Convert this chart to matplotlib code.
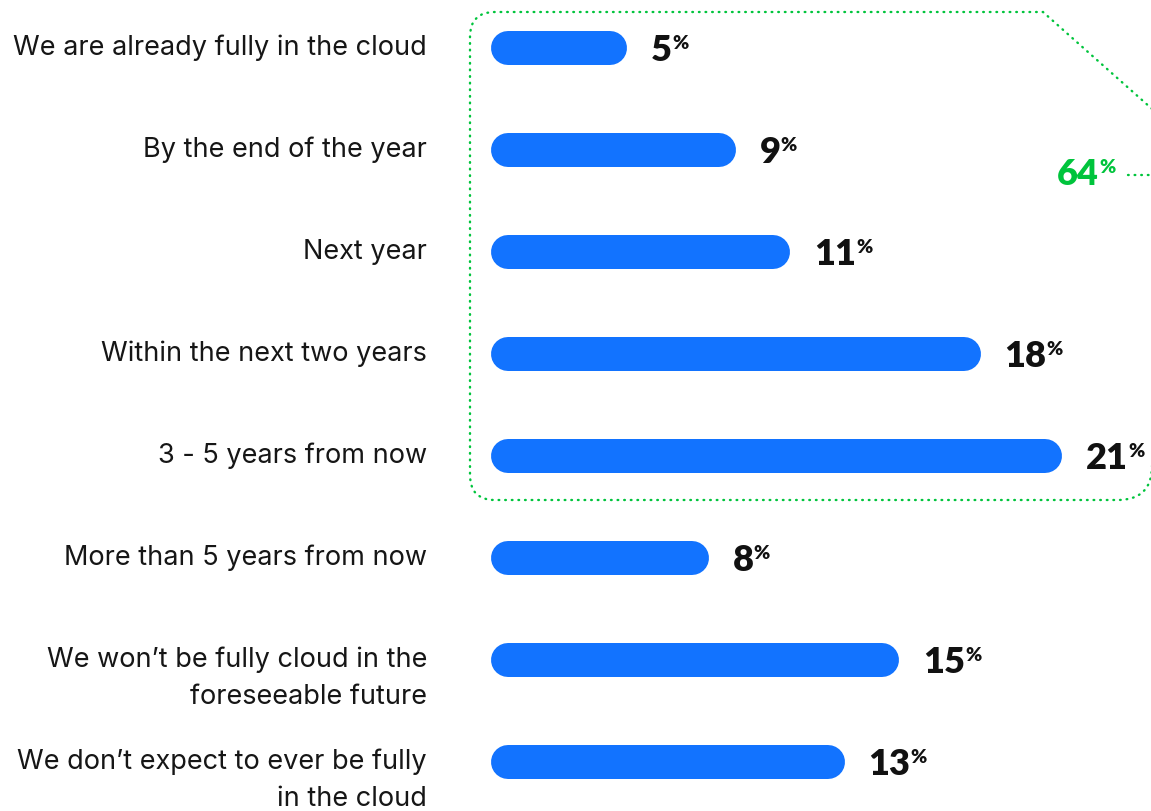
import numpy as np
import matplotlib
matplotlib.use("Agg")
import matplotlib.pyplot as plt
from matplotlib.patches import PathPatch
from matplotlib.path import Path

# data
labels = [
    "We are already fully in the cloud",
    "By the end of the year",
    "Next year",
    "Within the next two years",
    "3 - 5 years from now",
    "More than 5 years from now",
    "We won\u2019t be fully cloud in the\nforeseeable future",
    "We don\u2019t expect to ever be fully\nin the cloud",
]
values = [5, 9, 11, 18, 21, 8, 15, 13]
group_rows = [0, 1, 2, 3, 4]  # rows summed in the green box

BLUE = "#1273ff"
GREEN = "#00c43c"
LABEL_FONT = ["Inter", "DejaVu Sans"]
NUM_FONT = ["Lato", "DejaVu Sans"]

plt.rcParams["font.family"] = LABEL_FONT

W, H, DPI = 1151, 811, 100
fig = plt.figure(figsize=(W / DPI, H / DPI), dpi=DPI)

# axes: 1% = 27.2 px, one row = 102 px
px_x, px_y = 27.2, 102.0
left_px = 491
ax = fig.add_axes([left_px / W, 0, 1 - left_px / W, 1])
ax.set_xlim(0, (W - left_px) / px_x)
ax.set_ylim(7 + (H - 762) / px_y, -48 / px_y)
ax.axis("off")

pt = 72 / DPI  # points per pixel
bar_px = 34
cap = (bar_px / 2) / px_x  # round cap length in data units


def pct(artist, color):
    ax.annotate("%", xy=(1, 1), xycoords=artist, xytext=(0, -1 * pt),
                textcoords="offset points", ha="left", va="top",
                fontsize=14, fontweight="heavy", color=color,
                family=NUM_FONT)


for i, (lab, v) in enumerate(zip(labels, values)):
    ax.plot([cap, v - cap], [i, i], color=BLUE, lw=bar_px * pt,
            solid_capstyle="round")
    for k, line in enumerate(lab.split("\n")):
        ax.annotate(line, xy=(0, i), xytext=(-64 * pt, -(7 + 37 * k) * pt),
                    textcoords="offset points", ha="right", va="baseline",
                    fontsize=19.5, color="#161616", annotation_clip=False)
    num = ax.annotate(str(v), xy=(v, i), xytext=(24 * pt, -13 * pt),
                      textcoords="offset points", ha="left", va="baseline",
                      fontsize=26, fontweight="heavy", color="#111111",
                      family=NUM_FONT)
    pct(num, "#111111")

# green dotted bracket around first group
top = group_rows[0] - 36 / px_y
bot = group_rows[-1] + 44 / px_y
lx = -21 / px_x
rad_x, rad_y = 25 / px_x, 25 / px_y
diag_x0 = (1043 - left_px) / px_x
slope = (96 / px_y) / (108 / px_x)
end_x = (1175 - left_px) / px_x
br_x = (1118 - left_px) / px_x
verts = [
    (end_x, top + slope * (end_x - diag_x0)),
    (diag_x0, top),
    (lx + rad_x, top),
    (lx, top), (lx, top + rad_y),
    (lx, bot - rad_y),
    (lx, bot), (lx + rad_x, bot),
    (br_x, bot),
    (br_x + 34 / px_x, bot), (br_x + 34 / px_x, bot - 34 / px_y),
]
codes = [Path.MOVETO, Path.LINETO, Path.LINETO,
         Path.CURVE3, Path.CURVE3, Path.LINETO,
         Path.CURVE3, Path.CURVE3, Path.LINETO,
         Path.CURVE3, Path.CURVE3]
dots = (0, (0.3, 2.5))
ax.add_patch(PathPatch(Path(verts, codes), fc="none", ec=GREEN, lw=1.7,
                       ls=dots, capstyle="round", clip_on=False))

total = sum(values[r] for r in group_rows)
tx = (1099 - left_px) / px_x
ty = (185 - 48) / px_y
t64 = ax.text(tx, ty, str(total), ha="right", va="baseline", fontsize=26,
              fontweight="heavy", color=GREEN, family=NUM_FONT)
pct(t64, GREEN)
ly = (175 - 48) / px_y
ax.plot([(1128 - left_px) / px_x, end_x], [ly, ly], color=GREEN, lw=1.7,
        ls=dots, dash_capstyle="round", clip_on=False)

fig.savefig("out.png", dpi=DPI)
